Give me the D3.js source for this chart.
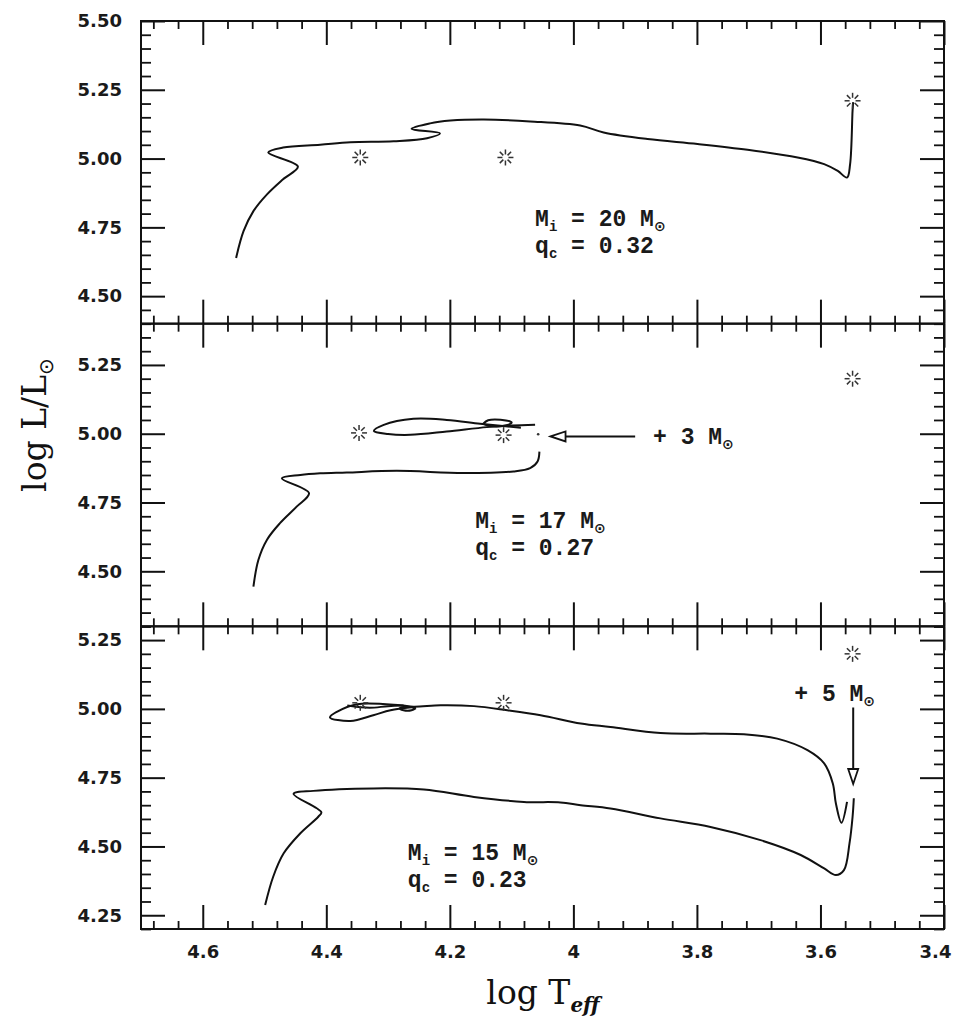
<!DOCTYPE html>
<html>
<head>
<meta charset="utf-8">
<script src="https://cdn.jsdelivr.net/npm/d3@7"></script>
<style>
body { margin: 0; background: #fff; }
svg { display: block; }
</style>
</head>
<body>
<svg id="chart" width="954" height="1020"></svg>
<script>
// axis values
var xDomain = [4.70, 3.40];
var xTickLabels = ["4.6", "4.4", "4.2", "4", "3.8", "3.6", "3.4"];
var yDomain20 = [4.40, 5.50];
var yDomain17 = [4.30, 5.40];
var yDomain15 = [4.20, 5.30];
var yLabels20 = ["5.50", "5.25", "5.00", "4.75", "4.50"];
var yLabels17 = ["5.25", "5.00", "4.75", "4.50"];
var yLabels15 = ["5.25", "5.00", "4.75", "4.50", "4.25"];

// tracks, [log Teff, log L]
var track20 = [
	[4.546, 4.639], [4.534, 4.736], [4.518, 4.809], [4.496, 4.870], [4.470, 4.925],
	[4.446, 4.971], [4.494, 5.022], [4.470, 5.040], [4.410, 5.050], [4.361, 5.059],
	[4.291, 5.063], [4.237, 5.074], [4.216, 5.092], [4.262, 5.108], [4.232, 5.128],
	[4.199, 5.138], [4.145, 5.142], [4.070, 5.135], [3.989, 5.120], [3.951, 5.095],
	[3.880, 5.071], [3.799, 5.053], [3.718, 5.032], [3.637, 5.004], [3.594, 4.980],
	[3.572, 4.955], [3.557, 4.931], [3.552, 4.980], [3.548, 5.175], [3.547, 5.205]
];
var track17 = [
	[4.518, 4.444], [4.510, 4.541], [4.496, 4.615], [4.475, 4.675], [4.448, 4.735],
	[4.428, 4.784], [4.472, 4.838], [4.442, 4.850], [4.410, 4.856], [4.367, 4.859],
	[4.286, 4.865], [4.178, 4.857], [4.097, 4.863], [4.070, 4.875], [4.058, 4.899],
	[4.055, 4.935]
];
var track17Loop = [
	[4.062, 5.033], [4.100, 5.030], [4.140, 5.024], [4.205, 5.008], [4.264, 4.996],
	[4.300, 4.999], [4.323, 5.010], [4.307, 5.032], [4.259, 5.054], [4.205, 5.050],
	[4.151, 5.036], [4.110, 5.027], [4.085, 5.022]
];
var track17Small = [
	[4.146, 5.036], [4.138, 5.049], [4.118, 5.051], [4.100, 5.041], [4.110, 5.030],
	[4.135, 5.028], [4.146, 5.036]
];
var track17Dot = [4.057, 4.998];
var track15 = [
	[4.499, 4.287], [4.486, 4.390], [4.469, 4.475], [4.442, 4.548], [4.413, 4.608],
	[4.408, 4.624], [4.453, 4.691], [4.421, 4.702], [4.324, 4.711], [4.242, 4.707],
	[4.161, 4.680], [4.080, 4.662], [4.021, 4.660], [3.988, 4.650], [3.940, 4.638],
	[3.859, 4.602], [3.778, 4.571], [3.697, 4.523], [3.632, 4.469], [3.594, 4.420],
	[3.575, 4.396], [3.562, 4.414], [3.553, 4.511], [3.548, 4.608], [3.546, 4.675]
];
var track15Upper = [
	[3.557, 4.662], [3.566, 4.586], [3.575, 4.656], [3.580, 4.729], [3.594, 4.802],
	[3.621, 4.850], [3.670, 4.892], [3.724, 4.908], [3.778, 4.910], [3.859, 4.912],
	[3.940, 4.934], [3.988, 4.947], [4.053, 4.977], [4.107, 4.995], [4.161, 5.010],
	[4.215, 5.013], [4.259, 5.008], [4.280, 5.013], [4.350, 5.017], [4.383, 4.989],
	[4.394, 4.969], [4.361, 4.956], [4.324, 4.977], [4.296, 4.995], [4.262, 5.006]
];
var track15Small = [
	[4.255, 5.003], [4.262, 4.995], [4.275, 4.995], [4.281, 5.002], [4.270, 5.008],
	[4.255, 5.003]
];
var track15Extra = [[4.366, 5.012], [4.330, 5.004], [4.300, 5.010], [4.275, 5.012]];

// star symbols
var markers20 = [[4.345, 5.004], [4.110, 5.004], [3.548, 5.210]];
var markers17 = [[4.347, 5.003], [4.113, 4.995], [3.548, 5.200]];
var markers15 = [[4.345, 5.022], [4.113, 5.022], [3.548, 5.200]];

// labels
var massText = ["20", "17", "15"];
var qText = ["0.32", "0.27", "0.23"];
var textAnchor = [[4.062, 4.785], [4.159, 4.685], [4.268, 4.481]];

var svg = d3.select("#chart");

var frameLeft = 141, frameRight = 944, frameTop = 21, frameBottom = 929;
var panelHeight = (frameBottom - frameTop) / 3;

var x = d3.scaleLinear().domain(xDomain).range([frameLeft, frameRight]);

function stepValues(lo, hi, step) {
	var out = [];
	for (var k = Math.ceil(lo / step - 1e-6); k <= Math.floor(hi / step + 1e-6); k++) {
		out.push(+(k * step).toFixed(3));
	}
	return out;
}

function isMultiple(v, m) {
	return Math.abs(v / m - Math.round(v / m)) < 1e-6;
}

var xMinor = stepValues(3.40, 4.70, 0.04).filter(function (v) { return !isMultiple(v, 0.2); });
var xMajor = xTickLabels.map(Number);

var panels = [
	{ domain: yDomain20, labels: yLabels20, tracks: [track20], markers: markers20 },
	{ domain: yDomain17, labels: yLabels17, tracks: [track17, track17Loop, track17Small], markers: markers17 },
	{ domain: yDomain15, labels: yLabels15, tracks: [track15, track15Upper, track15Small, track15Extra], markers: markers15 }
];

function styleAxis(g, width) {
	g.select(".domain").remove();
	g.selectAll(".tick line").attr("stroke", "#111").attr("stroke-width", width);
}

panels.forEach(function (p, i) {
	var top = frameTop + i * panelHeight;
	var bottom = top + panelHeight;
	var y = d3.scaleLinear().domain(p.domain).range([bottom, top]);
	p.y = y;

	var yMinor = stepValues(p.domain[0], p.domain[1], 0.05).filter(function (v) { return !isMultiple(v, 0.25); });
	var yMajor = p.labels.map(Number);

	var g = svg.append("g").attr("class", "panel");

	// left axis
	g.append("g").attr("transform", "translate(" + frameLeft + ",0)")
		.call(d3.axisLeft(y).tickValues(yMinor).tickSize(-10).tickFormat(""))
		.call(styleAxis, 1.8);
	g.append("g").attr("transform", "translate(" + frameLeft + ",0)")
		.call(d3.axisLeft(y).tickValues(yMajor).tickSize(-24).tickPadding(19).tickFormat(d3.format(".2f")))
		.call(styleAxis, 2)
		.selectAll("text")
		.attr("font-family", "DejaVu Sans")
		.attr("font-weight", "bold")
		.attr("font-size", 18)
		.attr("fill", "#1a1a1a");

	// right axis
	g.append("g").attr("transform", "translate(" + frameRight + ",0)")
		.call(d3.axisRight(y).tickValues(yMinor).tickSize(-10).tickFormat(""))
		.call(styleAxis, 1.8);
	g.append("g").attr("transform", "translate(" + frameRight + ",0)")
		.call(d3.axisRight(y).tickValues(yMajor).tickSize(-24).tickFormat(""))
		.call(styleAxis, 2);

	// top and bottom axes
	g.append("g").attr("transform", "translate(0," + top + ")")
		.call(d3.axisTop(x).tickValues(xMinor).tickSize(-8).tickFormat(""))
		.call(styleAxis, 1.8);
	g.append("g").attr("transform", "translate(0," + top + ")")
		.call(d3.axisTop(x).tickValues(xMajor).tickSize(-24).tickFormat(""))
		.call(styleAxis, 2);
	g.append("g").attr("transform", "translate(0," + bottom + ")")
		.call(d3.axisBottom(x).tickValues(xMinor).tickSize(-8).tickFormat(""))
		.call(styleAxis, 1.8);
	var bottomAxis = g.append("g").attr("transform", "translate(0," + bottom + ")")
		.call(d3.axisBottom(x).tickValues(xMajor).tickSize(-24).tickPadding(16)
			.tickFormat(function (d, k) { return i === 2 ? xTickLabels[k] : ""; }))
		.call(styleAxis, 2);
	bottomAxis.selectAll("text")
		.attr("font-family", "DejaVu Sans")
		.attr("font-weight", "bold")
		.attr("font-size", 18)
		.attr("fill", "#1a1a1a")
		.attr("dx", function (d, k) { return k === xTickLabels.length - 1 ? -9 : 0; });

	// frame
	g.append("rect")
		.attr("x", frameLeft).attr("y", top)
		.attr("width", frameRight - frameLeft).attr("height", bottom - top)
		.attr("fill", "none").attr("stroke", "#111").attr("stroke-width", 2);

	// tracks
	var line = d3.line()
		.x(function (d) { return x(d[0]); })
		.y(function (d) { return y(d[1]); })
		.curve(d3.curveCatmullRom.alpha(0.5));

	g.selectAll(".track")
		.data(p.tracks)
		.enter().append("path")
		.attr("class", "track")
		.attr("d", line)
		.attr("fill", "none")
		.attr("stroke", "#111")
		.attr("stroke-width", 2)
		.attr("stroke-linejoin", "round");

	// star symbols
	var star = g.selectAll(".marker")
		.data(p.markers)
		.enter().append("g")
		.attr("class", "marker")
		.attr("transform", function (d) { return "translate(" + x(d[0]) + "," + y(d[1]) + ")"; });
	star.selectAll("line")
		.data(d3.range(8))
		.enter().append("line")
		.attr("x1", function (k) { return 3 * Math.cos(k * Math.PI / 4); })
		.attr("y1", function (k) { return 3 * Math.sin(k * Math.PI / 4); })
		.attr("x2", function (k) { return 8 * Math.cos(k * Math.PI / 4); })
		.attr("y2", function (k) { return 8 * Math.sin(k * Math.PI / 4); })
		.attr("stroke", "#333")
		.attr("stroke-width", 1.5);

	// mass labels
	var tx = x(textAnchor[i][0]);
	var ty = y(textAnchor[i][1]) + 8;
	var t1 = g.append("text")
		.attr("x", tx).attr("y", ty)
		.attr("font-family", "Liberation Mono")
		.attr("font-weight", "bold")
		.attr("font-size", 23)
		.attr("fill", "#1a1a1a");
	t1.append("tspan").text("M");
	t1.append("tspan").attr("font-size", 14).attr("dy", 5).text("i");
	t1.append("tspan").attr("dy", -5).text(" = " + massText[i] + " M");
	t1.append("tspan").attr("font-size", 14).attr("dy", 5).attr("font-family", "DejaVu Sans").text("\u2299");

	var t2 = g.append("text")
		.attr("x", tx).attr("y", ty + 27)
		.attr("font-family", "Liberation Mono")
		.attr("font-weight", "bold")
		.attr("font-size", 23)
		.attr("fill", "#1a1a1a");
	t2.append("tspan").text("q");
	t2.append("tspan").attr("font-size", 14).attr("dy", 5).text("c");
	t2.append("tspan").attr("dy", -5).text(" = " + qText[i]);
});

// +3 Msun arrow (middle panel)
var y17 = panels[1].y;
var g17 = svg.append("g");
g17.append("circle")
	.attr("cx", x(track17Dot[0])).attr("cy", y17(track17Dot[1]))
	.attr("r", 1.3).attr("fill", "#333");
var ay = y17(4.990);
var tipX = x(4.037);
g17.append("line")
	.attr("x1", x(3.900)).attr("y1", ay)
	.attr("x2", tipX + 14).attr("y2", ay)
	.attr("stroke", "#111").attr("stroke-width", 2);
g17.append("path")
	.attr("d", "M" + tipX + "," + ay + "L" + (tipX + 15) + "," + (ay - 5) + "L" + (tipX + 15) + "," + (ay + 5) + "Z")
	.attr("fill", "#fff").attr("stroke", "#111").attr("stroke-width", 1.8);
var a3 = g17.append("text")
	.attr("x", x(3.871)).attr("y", ay + 8)
	.attr("font-family", "Liberation Mono")
	.attr("font-weight", "bold")
	.attr("font-size", 23)
	.attr("fill", "#1a1a1a");
a3.append("tspan").text("+ 3 M");
a3.append("tspan").attr("font-size", 14).attr("dy", 5).attr("font-family", "DejaVu Sans").text("\u2299");

// +5 Msun arrow (bottom panel)
var y15 = panels[2].y;
var g15 = svg.append("g");
var ax = x(3.547);
var tipY = y15(4.727);
g15.append("line")
	.attr("x1", ax).attr("y1", y15(5.005))
	.attr("x2", ax).attr("y2", tipY - 14)
	.attr("stroke", "#111").attr("stroke-width", 2);
g15.append("path")
	.attr("d", "M" + ax + "," + tipY + "L" + (ax - 5) + "," + (tipY - 15) + "L" + (ax + 5) + "," + (tipY - 15) + "Z")
	.attr("fill", "#fff").attr("stroke", "#111").attr("stroke-width", 1.8);
var a5 = g15.append("text")
	.attr("x", x(3.577)).attr("y", y15(5.057) + 8)
	.attr("text-anchor", "middle")
	.attr("font-family", "Liberation Mono")
	.attr("font-weight", "bold")
	.attr("font-size", 23)
	.attr("fill", "#1a1a1a");
a5.append("tspan").text("+ 5 M");
a5.append("tspan").attr("font-size", 14).attr("dy", 5).attr("font-family", "DejaVu Sans").text("\u2299");

// axis titles
var yTitle = svg.append("text")
	.attr("transform", "translate(46,425) rotate(-90)")
	.attr("text-anchor", "middle")
	.attr("font-family", "DejaVu Serif")
	.attr("font-size", 33)
	.attr("fill", "#111");
yTitle.append("tspan").text("log L/L");
yTitle.append("tspan").attr("font-size", 20).attr("dy", 7).attr("font-family", "DejaVu Sans").text("\u2299");

var xTitle = svg.append("text")
	.attr("x", 543).attr("y", 1004)
	.attr("text-anchor", "middle")
	.attr("font-family", "DejaVu Serif")
	.attr("font-size", 33)
	.attr("fill", "#111");
xTitle.append("tspan").text("log T");
xTitle.append("tspan").attr("font-size", 20).attr("dy", 8).attr("font-weight", "bold").attr("font-style", "italic").text("eff");
</script>
</body>
</html>
